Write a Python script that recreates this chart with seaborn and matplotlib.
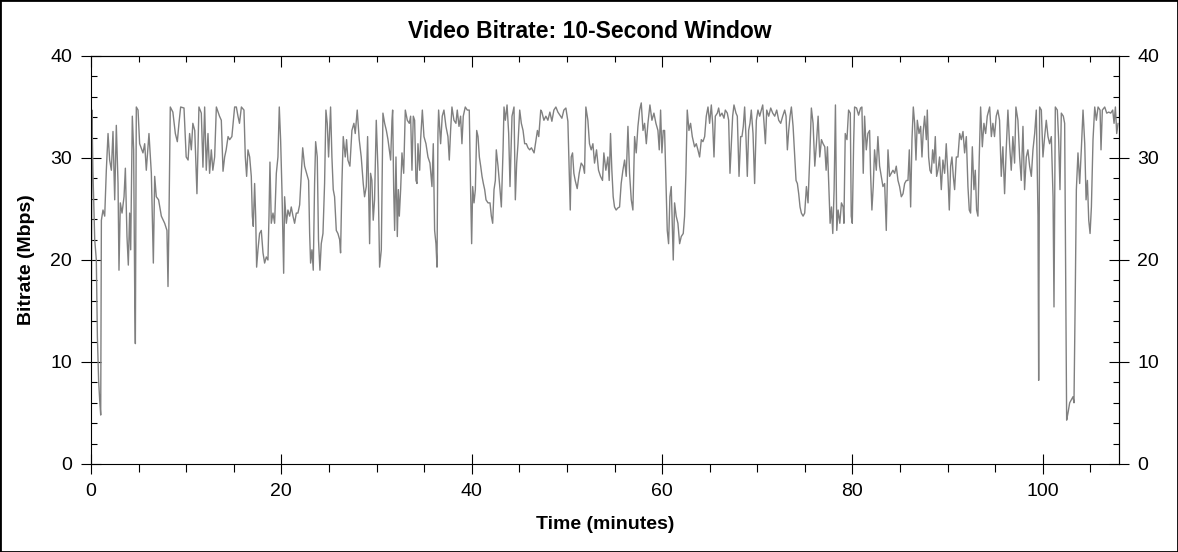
import matplotlib
matplotlib.use("Agg")
import matplotlib.pyplot as plt
import seaborn as sns

# values (time in minutes, 10-second window bitrate in Mbps)
minutes = [
    0, 0.1, 0.2, 0.39, 0.56, 0.67, 0.8, 0.91, 1.02, 1.05,
    1.09, 1.26, 1.44, 1.61, 1.79, 1.96, 2.14, 2.31, 2.49, 2.66,
    2.84, 2.94, 3.08, 3.26, 3.47, 3.61, 3.78, 3.92, 4.06, 4.17,
    4.34, 4.48, 4.59, 4.66, 4.76, 4.94, 5.11, 5.46, 5.64, 5.81,
    6.09, 6.34, 6.55, 6.69, 6.86, 7.1, 7.39, 7.74, 7.98, 8.09,
    8.19, 8.33, 8.6, 8.86, 9.07, 9.24, 9.42, 9.77, 10.0, 10.2,
    10.36, 10.54, 10.7, 10.9, 11.13, 11.34, 11.59, 11.76, 11.94, 12.11,
    12.29, 12.46, 12.64, 12.8, 12.99, 13.17, 13.5, 13.69, 13.87, 14.04,
    14.2, 14.4, 14.57, 14.8, 15.09, 15.27, 15.44, 15.6, 15.8,
    16.07, 16.21, 16.35, 16.49, 16.67, 16.84, 16.95, 17.05, 17.19, 17.3,
    17.4, 17.54, 17.71, 17.89, 18.07, 18.24, 18.42, 18.59, 18.7, 18.8,
    18.94, 19.12, 19.29, 19.47, 19.64, 19.78, 19.92, 20.06, 20.24, 20.34,
    20.52, 20.69, 20.87, 21.04, 21.22, 21.39, 21.57, 21.74, 21.92, 22.1,
    22.24, 22.44, 22.65, 22.86, 22.97, 23.07, 23.21, 23.35, 23.49, 23.6,
    23.77, 23.9, 24.05, 24.19, 24.37, 24.54, 24.68, 24.82, 24.96, 25.17,
    25.31, 25.45, 25.59, 25.77, 25.94, 26.12, 26.22, 26.36, 26.5, 26.71,
    26.85, 26.99, 27.2, 27.41, 27.62, 27.76, 27.97, 28.18, 28.39, 28.6,
    28.74, 28.92, 29.06, 29.16, 29.27, 29.37, 29.51, 29.65, 29.79, 29.97,
    30.15, 30.32, 30.5, 30.67, 30.85, 31.03, 31.2, 31.48, 31.62,
    31.69, 31.8, 31.9, 32.04, 32.18, 32.29, 32.39, 32.53, 32.67, 32.85,
    33.02, 33.23, 33.44, 33.58, 33.72, 33.86, 34.0, 34.14, 34.25, 34.35,
    34.53, 34.63, 34.81, 34.98, 35.19, 35.4, 35.61, 35.82, 35.96, 36.1,
    36.24, 36.35, 36.45, 36.52, 36.73, 36.9, 37.08, 37.29, 37.5, 37.64,
    37.78, 37.92, 38.13, 38.34, 38.48, 38.66, 38.83, 38.97, 39.11, 39.32,
    39.53, 39.74, 39.88, 39.99, 40.1, 40.24, 40.38, 40.52, 40.66, 40.8,
    40.94, 41.08, 41.22, 41.36, 41.5, 41.71, 41.92, 42.06, 42.2, 42.34,
    42.48, 42.58, 42.76, 42.97, 43.11, 43.29, 43.39, 43.53, 43.71, 43.88,
    44.02, 44.23, 44.44, 44.58, 44.72, 44.86, 45.04, 45.21, 45.39, 45.56,
    45.74, 45.91, 46.09, 46.27, 46.55, 46.69, 46.9, 47.04, 47.25,
    47.37, 47.58, 47.79, 48.0, 48.21, 48.42, 48.63, 48.84, 49.05, 49.26,
    49.47, 49.68, 49.89, 50.1, 50.24, 50.35, 50.45, 50.59, 50.73, 50.87,
    51.08, 51.29, 51.5, 51.71, 51.85, 51.99, 52.2, 52.37, 52.55, 52.73,
    52.9, 53.11, 53.32, 53.53, 53.74, 53.88, 54.09, 54.3, 54.44, 54.58,
    54.72, 54.86, 55.0, 55.17, 55.35, 55.53, 55.7, 55.88, 56.06, 56.23,
    56.41, 56.58, 56.76, 56.93, 57.11, 57.28, 57.46, 57.64, 57.81, 57.99,
    58.16, 58.34, 58.51, 58.72, 58.93, 59.14, 59.35, 59.56, 59.7, 59.84,
    59.98, 60.12, 60.26, 60.4, 60.54, 60.68, 60.82, 60.96, 61.07, 61.17,
    61.31, 61.48, 61.66, 61.84, 62.01, 62.22, 62.36, 62.5, 62.64, 62.82,
    62.99, 63.17,
    63.24, 63.41, 63.59, 63.76, 63.94, 64.12, 64.29, 64.47, 64.64, 64.82,
    64.99, 65.17, 65.31, 65.45, 65.59, 65.8, 65.94, 66.08, 66.29, 66.5,
    66.64, 66.85, 66.99, 67.13, 67.27, 67.41, 67.55, 67.76, 67.9, 68.08,
    68.25, 68.39, 68.53, 68.67, 68.81, 68.95, 69.09, 69.23, 69.37, 69.55,
    69.72, 69.9, 70.07, 70.25, 70.43, 70.57, 70.71, 70.85, 70.99, 71.2,
    71.41, 71.62, 71.83, 72.04, 72.25, 72.46, 72.67, 72.88, 73.02, 73.16,
    73.3, 73.44, 73.58, 73.76, 73.93, 74.07, 74.21, 74.35, 74.49, 74.63,
    74.81, 74.98, 75.16, 75.33, 75.51, 75.68, 75.86, 76.04, 76.21, 76.39,
    76.56, 76.74, 76.91, 77.09, 77.23, 77.37, 77.51, 77.65, 77.79, 77.93,
    78.07, 78.21, 78.35, 78.49, 78.67, 78.84, 79.02,
    79.1, 79.24, 79.42, 79.59, 79.77, 79.87, 79.98, 80.12, 80.22, 80.43,
    80.64, 80.85, 80.99, 81.13, 81.27, 81.45, 81.62, 81.8, 81.9, 82.04,
    82.18, 82.32, 82.5, 82.67, 82.85, 83.02, 83.2, 83.38, 83.55, 83.73,
    83.9, 84.08, 84.25, 84.43, 84.6, 84.78, 84.95, 85.13, 85.31, 85.48,
    85.66, 85.83, 85.97, 86.11, 86.25, 86.39, 86.53, 86.67, 86.81, 86.99,
    87.16, 87.3, 87.44, 87.58, 87.76, 87.86, 88.0, 88.14, 88.28, 88.42,
    88.56, 88.7, 88.84, 88.98, 89.15, 89.33, 89.5, 89.68, 89.85, 90.03,
    90.17, 90.31, 90.45, 90.59, 90.73, 90.91, 91.08, 91.26, 91.43, 91.61,
    91.78, 91.96, 92.13, 92.27, 92.41, 92.59, 92.76, 92.9, 93.04, 93.18,
    93.32, 93.46, 93.64, 93.81, 93.99, 94.16, 94.41, 94.59,
    94.75, 94.92, 95.1, 95.27, 95.45, 95.63, 95.8, 95.98, 96.15, 96.33,
    96.5, 96.68, 96.85, 97.03, 97.17, 97.38, 97.56, 97.73, 97.91, 98.08,
    98.26, 98.43, 98.61, 98.79, 98.96, 99.14, 99.31, 99.49, 99.56, 99.66,
    99.84, 100.01, 100.19, 100.36, 100.54, 100.71, 100.89, 101.07, 101.17, 101.31,
    101.52, 101.66, 101.8, 101.94, 102.15, 102.29, 102.39, 102.5, 102.64, 102.82,
    102.99, 103.17, 103.27, 103.41, 103.52, 103.69, 103.87, 104.04, 104.22, 104.4,
    104.54, 104.68, 104.82, 104.96, 105.1, 105.27, 105.45, 105.62, 105.8, 106.01,
    106.11, 106.25, 106.5, 106.71, 106.92, 107.13, 107.34, 107.48, 107.62, 107.76,
    107.9,
]

mbps = [
    0.5, 34.7, 28.8, 22, 20, 12.5, 8.2, 6.3, 4.8, 13.1,
    23.9, 24.9, 24.3, 28.8, 32.4, 29.8, 28.8, 32.6, 25.9, 33.2,
    27.5, 19, 25.6, 24.6, 26.2, 29, 22.3, 19.5, 24.6, 21,
    34.1, 30.8, 17.1, 11.8, 35, 34.7, 31.4, 30.5, 31.4, 28.8,
    32.4, 28.5, 19.7, 28.2, 26.2, 25.9, 24.3, 23.6, 22.9, 17.4,
    23.9, 35, 34.5, 32.4, 31.6, 33.4, 35, 34.9, 30.1, 29.8,
    32.4, 30.8, 33.4, 32.7, 26.5, 35, 34.4, 29.1, 35, 28.8,
    32.4, 28.5, 30.8, 28.8, 30.1, 35, 34.1, 33.7, 28.7, 30.1,
    30.8, 32.1, 31.8, 32.1, 35, 35, 34.1, 33.4, 35,
    34.7, 30.1, 28.2, 30.8, 30.1, 28.2, 24.3, 23.3, 27.5, 24.3,
    19.3, 21, 22.6, 22.9, 20.7, 19.7, 20.3, 20, 24.3, 29.6,
    23.6, 24.6, 23.6, 28.5, 30.1, 35, 31.8, 26.9, 18.7, 26.2,
    23.6, 24.9, 24.3, 25.2, 24.3, 23.6, 24.6, 24.6, 25.4, 28.5,
    31, 29.2, 28.5, 27.8, 22.6, 19.7, 21, 19, 27.5, 31.6,
    30.1, 22, 19, 21.6, 22.6, 27.5, 34.7, 33.4, 30.1, 35,
    30.1, 26.9, 26.2, 22.9, 22.6, 22, 20.7, 27.5, 32.1, 30.1,
    31.8, 29.8, 29.2, 32.7, 33.4, 32.4, 34.7, 31.8, 30.1, 27.5,
    26.2, 27.2, 32.1, 26.9, 21.6, 28.5, 27.8, 23.9, 25.9, 33.7,
    28.8, 19.3, 21, 34.4, 33.4, 32.7, 31.8, 29.8, 33.7,
    34.7, 26.9, 22.9, 30.1, 22.3, 26.9, 24.3, 26.9, 30.5, 28.5,
    34.7, 33.7, 33.4, 34.1, 28.8, 34.1, 33.7, 27.8, 27.5, 31.4,
    28.8, 31.8, 34.7, 32.1, 31.4, 30.1, 29.5, 27.2, 31.4, 22.9,
    21.6, 19.3, 32.4, 34.7, 31.4, 34.1, 34.7, 33.1, 32.1, 29.8,
    32.7, 35, 33.7, 33.4, 34.7, 33.1, 34.1, 31.4, 34.1, 35,
    34.7, 34.7, 26.9, 21.6, 27.2, 25.6, 26.9, 32.7, 32.1, 30.1,
    29.2, 28.2, 27.5, 26.9, 25.9, 25.6, 25.6, 24.3, 23.6, 26.9,
    27.8, 30.8, 29.2, 26.9, 25.2, 30.8, 35, 33.7, 35.2, 32.4,
    27.2, 34.1, 35, 25.9, 29.5, 31.4, 34.7, 33.4, 32.7, 31.4,
    31.4, 31, 30.8, 31, 30.5, 31.4, 32.7, 32.1, 34.7,
    34.5, 33.7, 34.1, 33.7, 34.5, 33.6, 34.7, 35, 34.5, 34.2,
    33.9, 34.7, 34.9, 33.6, 28.5, 24.9, 30.1, 30.5, 28.5, 27.8,
    27, 28.5, 29.5, 29.2, 28.5, 35, 33.7, 31.4, 30.8, 31.4,
    29.5, 30.8, 28.8, 28.2, 27.8, 30.5, 28.8, 30.1, 27.8, 32.4,
    28.8, 26.2, 25.2, 24.9, 25.1, 25.2, 27.5, 28.8, 29.8, 28.2,
    33.1, 28.5, 25.9, 24.9, 32.1, 30.5, 33.1, 34.7, 35.4, 32.7,
    33.4, 31.4, 33.4, 35.2, 33.7, 34.4, 33.4, 32.7, 30.8, 34.7,
    30.5, 32.7, 32.7, 27.8, 22.9, 21.6, 26.2, 27.2, 23.6, 20,
    25.6, 24.3, 23.6, 21.6, 22.3, 22.6, 24.3, 28.5, 34.7, 32.7,
    33.4, 32.1,
    31.8, 31.1, 31.4, 30.8, 30.1, 31.8, 31.6, 32.1, 34.1, 35,
    33.4, 35.2, 33.4, 30.1, 34.1, 34.4, 34.9, 34.1, 34.4, 33.9,
    34.7, 34.4, 33.7, 28.5, 31.4, 34.1, 35.2, 34.4, 34.1, 28.2,
    32.1, 32.1, 33.1, 35, 32.1, 28.2, 32.7, 33.4, 34.7, 32.4,
    27.5, 33.7, 34.7, 34.1, 34.7, 35.2, 33.4, 31.4, 34.7, 34.1,
    34.9, 34.4, 34.1, 34.7, 33.7, 33.4, 34.1, 34.7, 34.1, 30.8,
    32.7, 34.1, 35, 33.1, 30.1, 27.8, 27.5, 26.5, 25.2, 24.6,
    24.3, 24.6, 27.2, 25.6, 30.1, 34.9, 33.4, 29.2, 31.4, 34.1,
    30.1, 31.8, 31.4, 31.1, 28.8, 31.1, 27.5, 23.6, 25.2, 22.6,
    26.9, 35.2, 22.9, 24.9, 23.6, 25.6, 25.2,
    23.6, 32.4, 31.8, 34.7, 34.4, 24.3, 23.6, 31.4, 35, 34.9,
    34.2, 34.9, 35, 28.5, 34.1, 30.8, 32.4, 32.7, 28.5, 24.9,
    27.2, 30.8, 28.8, 32.1, 29.2, 28.2, 27.2, 27.5, 22.9, 30.8,
    28.2, 28.5, 28.8, 28.5, 29.2, 27.8, 27.2, 26.2, 26.5, 27.5,
    27.8, 27.8, 30.8, 25.2, 31.8, 35, 33.4, 29.8, 33.7, 32.4,
    33.1, 30.1, 32.7, 34.1, 31.8, 34.7, 30.1, 28.8, 28.5, 30.8,
    29.5, 32.1, 28.2, 28.8, 30.1, 26.9, 29.8, 28.5, 31.4, 28.2,
    24.9, 29.2, 30.1, 28.2, 26.9, 30.1, 30.1, 32.4, 31.8, 32.6,
    30.5, 32.1, 27.2, 24.9, 24.6, 31.1, 26.9, 28.8, 24.9, 24.3,
    30.1, 35, 31.1, 33.4, 32.4, 34.1, 35, 32.1,
    33.4, 32.1, 34.1, 34.7, 33.7, 28.2, 31.1, 26.5, 30.8, 34.7,
    31.4, 28.8, 32.1, 29.5, 35, 33.7, 30.1, 27.8, 33.1, 26.9,
    30.1, 30.8, 29.2, 28.2, 30.8, 32.4, 34.7, 24.3, 8.2, 35,
    34.7, 30.1, 32.1, 33.7, 32.1, 31.4, 32.1, 26.2, 15.4, 35,
    34.7, 31.8, 26.9, 34.4, 34.1, 33.4, 19, 4.3, 5, 6,
    6.3, 6.6, 6, 17.1, 26.9, 30.5, 27.5, 30.8, 34.7, 31.4,
    25.9, 27.8, 23.9, 22.6, 25.2, 31.8, 35, 33.7, 35, 34.7,
    30.8, 34.7, 35, 34.4, 34.5, 34.4, 34.7, 33.4, 35, 32.4,
    33.4,
]

x_major = [0, 20, 40, 60, 80, 100]
x_minor = list(range(0, 109, 5))
y_major = [0, 10, 20, 30, 40]
y_minor = list(range(0, 41, 2))

sns.set_style("ticks")
plt.rcParams["font.family"] = ["Liberation Sans", "DejaVu Sans"]
plt.rcParams.update({"text.color": "black", "axes.labelcolor": "black",
                     "xtick.color": "black", "ytick.color": "black"})

fig = plt.figure(figsize=(11.78, 5.52), dpi=100)
fig.patch.set_facecolor("white")
ax = fig.add_axes([91 / 1178, 88 / 552, 1028 / 1178, 408 / 552])

sns.lineplot(x=minutes, y=mbps, ax=ax, color="#808080", linewidth=1.0,
             estimator=None, sort=False)

ax.set_xlim(0, 108)
ax.set_ylim(0, 40)

for s in ax.spines.values():
    s.set_visible(True)
    s.set_linewidth(0.8)
    s.set_color("black")

ax.set_xticks(x_major)
ax.set_xticks(x_minor, minor=True)
ax.set_yticks(y_major)
ax.set_yticks(y_minor, minor=True)

ax.tick_params(axis="x", which="major", direction="inout", length=14, width=0.8,
               labelsize=14, pad=7, top=False, colors="black")
ax.tick_params(axis="x", which="minor", direction="out", length=6, width=0.8, top=False)
ax.tick_params(axis="y", which="major", direction="inout", length=15, width=0.8,
               labelsize=14, pad=6, right=False, colors="black")
ax.tick_params(axis="y", which="minor", direction="in", length=4, width=0.8, right=False)

# top axis: inward ticks only; right axis: ticks and labels
top = ax.secondary_xaxis("top")
top.set_xticks(x_major, labels=[""] * len(x_major))
top.set_xticks(x_minor, minor=True)
top.tick_params(which="major", direction="in", length=8, width=0.8, labeltop=False)
top.tick_params(which="minor", direction="in", length=4, width=0.8)

right = ax.secondary_yaxis("right")
right.set_yticks(y_major)
right.set_yticks(y_minor, minor=True)
right.tick_params(which="major", direction="inout", length=14, width=0.8,
                  labelsize=14, pad=6, colors="black")
right.tick_params(which="minor", direction="in", length=4, width=0.8)

ax.set_title("Video Bitrate: 10-Second Window", fontsize=16.5, fontweight="bold",
             pad=13, x=0.485, color="black")
ax.set_xlabel("Time (minutes)", fontsize=14, fontweight="bold")
ax.set_ylabel("Bitrate (Mbps)", fontsize=14, fontweight="bold")
ax.xaxis.set_label_coords(0.5, -0.128)
ax.yaxis.set_label_coords(-0.054, 0.5)

fig.add_artist(plt.Rectangle((0, 0), 1, 1, transform=fig.transFigure,
                             fill=False, edgecolor="black", linewidth=2))

plt.savefig("out.png", dpi=100)
